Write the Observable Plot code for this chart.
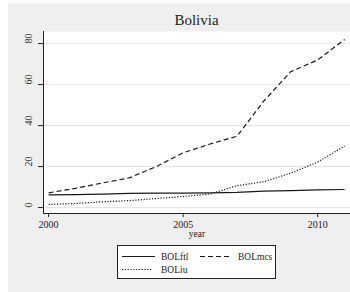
<!DOCTYPE html>
<html>
<head>
<meta charset="utf-8">
<script src="https://cdn.jsdelivr.net/npm/d3@7"></script>
<script src="https://cdn.jsdelivr.net/npm/@observablehq/plot@0.6"></script>
<style>
  html, body { margin: 0; padding: 0; background: #fff; }
  #wrap { position: relative; width: 350px; height: 292px; overflow: hidden; font-family: "Liberation Serif", "Times New Roman", Times, serif; }
  #bg { position: absolute; left: 8px; top: 3px; width: 342px; height: 289px; background: #efefef; }
  #chart { position: absolute; left: 0; top: 0; }
  #title { position: absolute; left: 43px; width: 307px; top: 12px; text-align: center; font-family: "Liberation Serif", "Times New Roman", Times, serif; font-size: 15px; font-weight: normal; color: #222; }
  #legend { position: absolute; left: 117px; top: 245px; width: 157px; height: 32px; border: 1px solid #222; background: #fff; }
  #legend svg { position: absolute; left: 0; top: 0; }
</style>
</head>
<body>
<div id="wrap">
  <div id="bg"></div>
  <div id="chart"></div>
  <div id="title">Bolivia</div>
  <div id="legend"></div>
</div>
<script>
const years = [2000, 2001, 2002, 2003, 2004, 2005, 2006, 2007, 2008, 2009, 2010, 2011];
const BOLftl = [6.2, 6.3, 6.6, 6.9, 7.0, 7.0, 7.2, 7.4, 8.0, 8.3, 8.6, 8.8];
const BOLmcs = [7.2, 9.4, 12.0, 14.5, 20.0, 26.7, 31.0, 34.8, 52.0, 66.3, 72.0, 82.0];
const BOLiu  = [1.5, 2.0, 2.8, 3.4, 4.4, 5.4, 6.6, 10.7, 12.6, 16.8, 22.2, 30.0];
const seriesNames = ["BOLftl", "BOLmcs", "BOLiu"];
const seriesValues = [BOLftl, BOLmcs, BOLiu];
const dashes = {BOLftl: null, BOLmcs: "5,3", BOLiu: "1.2,1.6"};
const yTicks = [0, 20, 40, 60, 80];
const xTicks = [2000, 2005, 2010];
const xDomain = [1999.81, 2011.22];
const yDomain = [-2.9, 85.9];
const serif = "'Liberation Serif', 'Times New Roman', serif";

const rows = [];
seriesNames.forEach((s, i) => years.forEach((yr, j) => rows.push({series: s, year: yr, value: seriesValues[i][j]})));

const lineMarks = seriesNames.map(s => Plot.line(rows.filter(r => r.series === s), {
  x: "year", y: "value", stroke: "#1a1a1a", strokeWidth: 1.2,
  strokeDasharray: dashes[s], strokeLinecap: "butt"
}));

const chart = Plot.plot({
  width: 350, height: 250,
  marginTop: 31, marginLeft: 43, marginRight: 0, marginBottom: 37,
  style: {background: "transparent", fontFamily: serif, color: "#222"},
  x: {domain: xDomain, axis: null},
  y: {domain: yDomain, axis: null},
  marks: [
    Plot.frame({fill: "white", stroke: null}),
    Plot.ruleY(yTicks, {stroke: "#e4e4e4", strokeWidth: 1}),
    ...lineMarks,
    Plot.ruleX([xDomain[0]], {stroke: "#222", strokeWidth: 1}),
    Plot.ruleY([yDomain[0]], {stroke: "#222", strokeWidth: 1}),
    Plot.axisY(yTicks, {tickSize: 5, tickFormat: () => "", label: null, stroke: "#222"}),
    Plot.text(yTicks, {y: d => d, text: d => String(d), frameAnchor: "left", dx: -15, rotate: -90, fontSize: 10, fill: "#333", fontFamily: serif}),
    Plot.axisX(xTicks, {tickSize: 4, tickPadding: 3, fontSize: 10, label: null, tickFormat: d => String(d), stroke: "#222", fill: "#222", fontFamily: serif}),
    Plot.text(["year"], {frameAnchor: "bottom", dy: 23, text: d => d, fontSize: 9.5, fill: "#222", fontFamily: serif})
  ]
});
document.getElementById("chart").appendChild(chart);

// legend
const ns = "http://www.w3.org/2000/svg";
const lsvg = document.createElementNS(ns, "svg");
lsvg.setAttribute("width", 157); lsvg.setAttribute("height", 32);
const entries = [
  {name: "BOLftl", lx: 4, ly: 10.5, len: 33},
  {name: "BOLmcs", lx: 82, ly: 10.5, len: 31},
  {name: "BOLiu", lx: 4, ly: 23.5, len: 30}
];
entries.forEach(e => {
  const l = document.createElementNS(ns, "line");
  l.setAttribute("x1", e.lx); l.setAttribute("x2", e.lx + e.len);
  l.setAttribute("y1", e.ly); l.setAttribute("y2", e.ly);
  l.setAttribute("stroke", "#1a1a1a"); l.setAttribute("stroke-width", 1.2);
  if (dashes[e.name]) l.setAttribute("stroke-dasharray", dashes[e.name]);
  lsvg.appendChild(l);
  const t = document.createElementNS(ns, "text");
  t.setAttribute("x", e.lx + (e.name === "BOLmcs" ? 38 : 39));
  t.setAttribute("y", e.ly + 3.5);
  t.setAttribute("font-size", 9.5);
  t.setAttribute("font-family", serif);
  t.setAttribute("fill", "#222");
  t.textContent = e.name;
  lsvg.appendChild(t);
});
document.getElementById("legend").appendChild(lsvg);
</script>
</body>
</html>
